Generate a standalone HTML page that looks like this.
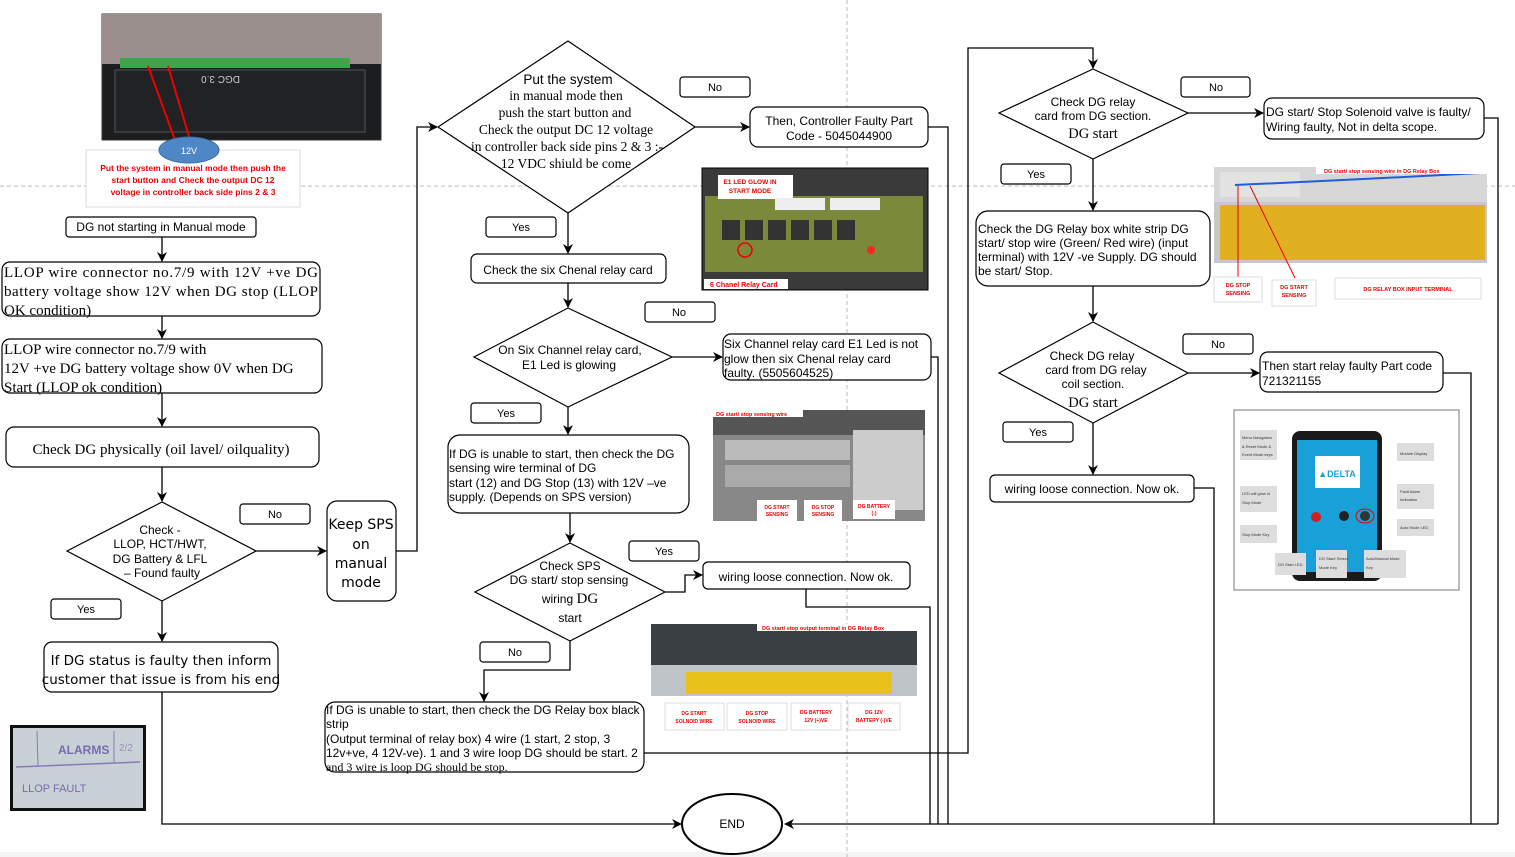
<!DOCTYPE html>
<html><head><meta charset="utf-8"><style>
html,body{margin:0;padding:0;background:#fff;}
svg{display:block;}
</style></head><body>
<svg width="1515" height="857" viewBox="0 0 1515 857" xmlns="http://www.w3.org/2000/svg" font-family="Liberation Sans, sans-serif">
<defs>
<marker id="a" markerWidth="10" markerHeight="10" refX="9" refY="5" orient="auto" markerUnits="userSpaceOnUse"><path d="M0,0 L10,5 L0,10 L3,5 z" fill="#000"/></marker>
</defs>
<rect x="0" y="852" width="1515" height="5" fill="#f4f4f4"/>
<line x1="0" y1="186" x2="1515" y2="186" stroke="#bbb" stroke-dasharray="4,3"/>
<line x1="847" y1="0" x2="847" y2="857" stroke="#bbb" stroke-dasharray="4,3"/>

<g fill="none" stroke="#000" stroke-width="1.3">
<line x1="162" y1="237" x2="162" y2="261" marker-end="url(#a)"/>
<line x1="162" y1="316" x2="162" y2="338" marker-end="url(#a)"/>
<line x1="162" y1="393" x2="162" y2="426" marker-end="url(#a)"/>
<line x1="162" y1="467" x2="162" y2="501" marker-end="url(#a)"/>
<line x1="256" y1="551" x2="326" y2="551" marker-end="url(#a)"/>
<line x1="162" y1="601" x2="162" y2="641" marker-end="url(#a)"/>
<polyline points="162,692 162,824 681,824" marker-end="url(#a)"/>
<polyline points="396,551 417,551 417,127 437,127" marker-end="url(#a)"/>
<line x1="695" y1="127" x2="749" y2="127" marker-end="url(#a)"/>
<line x1="568" y1="213" x2="568" y2="253" marker-end="url(#a)"/>
<line x1="568" y1="283" x2="568" y2="307" marker-end="url(#a)"/>
<line x1="672" y1="357" x2="722" y2="357" marker-end="url(#a)"/>
<line x1="568" y1="407" x2="568" y2="434" marker-end="url(#a)"/>
<line x1="570" y1="513" x2="570" y2="542" marker-end="url(#a)"/>
<polyline points="665,592 685,592 685,575 702,575" marker-end="url(#a)"/>
<polyline points="570,641 570,670 484,670 484,701" marker-end="url(#a)"/>
<polyline points="928,127 948,127 948,824"/>
<polyline points="931,357 938,357 938,824"/>
<polyline points="806,589 806,607 930,607 930,824"/>
<polyline points="644,753 968,753 968,48 1093,48 1093,68" marker-end="url(#a)"/>
<line x1="1188" y1="113" x2="1263" y2="113" marker-end="url(#a)"/>
<line x1="1093" y1="159" x2="1093" y2="210" marker-end="url(#a)"/>
<line x1="1093" y1="286" x2="1093" y2="321" marker-end="url(#a)"/>
<line x1="1188" y1="373" x2="1259" y2="373" marker-end="url(#a)"/>
<line x1="1093" y1="423" x2="1093" y2="474" marker-end="url(#a)"/>
<polyline points="1484,118 1498,118 1498,824"/>
<polyline points="1443,373 1471,373 1471,824"/>
<polyline points="1194,488 1214,488 1214,824"/>
<polyline points="1498,824 785,824" marker-end="url(#a)"/>
</g>

<!-- photo 1 -->
<rect x="102" y="14" width="279" height="126" fill="#1b1d1f" stroke="#333"/>
<rect x="102" y="14" width="279" height="50" fill="#9a8f8c"/>
<rect x="120" y="58" width="230" height="10" fill="#3aa74a"/>
<rect x="115" y="70" width="250" height="62" fill="#202224" stroke="#555"/>
<text x="240" y="84" fill="#ccc" font-size="10" transform="rotate(180 240 80)">DGC 3.0</text>
<line x1="168" y1="66" x2="190" y2="140" stroke="#e00" stroke-width="2"/>
<line x1="148" y1="66" x2="175" y2="140" stroke="#e00" stroke-width="2"/>
<rect x="86" y="150" width="214" height="57" fill="#fff" stroke="#ddd"/>
<ellipse cx="189" cy="150" rx="30" ry="13" fill="#4f86c6" stroke="#3a6ea8"/>
<text x="189" y="154" fill="#fff" font-size="9" text-anchor="middle">12V</text>
<g fill="#e00" font-size="8.5" font-weight="bold" text-anchor="middle">
<text x="193" y="171">Put the system in manual mode then push the</text>
<text x="193" y="183">start button and Check the output DC 12</text>
<text x="193" y="195">voltage in controller back side pins 2 &amp; 3</text>
</g>

<g fill="#fff" stroke="#000" stroke-width="1.2">
<rect x="66" y="217" width="190" height="20" rx="3"/>
<rect x="2" y="262" width="318" height="54" rx="8"/>
<rect x="2" y="339" width="320" height="54" rx="8"/>
<rect x="6" y="427" width="313" height="40" rx="8"/>
<polygon points="162,502 256,551 162,601 67,551"/>
<rect x="240" y="504" width="70" height="20" rx="3"/>
<rect x="51" y="599" width="70" height="20" rx="3"/>
<rect x="327" y="501" width="69" height="100" rx="10"/>
<rect x="44" y="642" width="234" height="50" rx="8"/>
</g>
<text x="161" y="231" font-size="12" text-anchor="middle">DG  not starting in Manual mode</text>
<g font-size="15" font-family="Liberation Serif, serif">
<text x="4" y="277" textLength="314" lengthAdjust="spacing">LLOP wire connector no.7/9 with 12V +ve DG</text>
<text x="4" y="296" textLength="314" lengthAdjust="spacing">battery voltage show 12V when DG stop (LLOP</text>
<text x="4" y="315">OK condition)</text>
<text x="4" y="354">LLOP wire connector no.7/9 with</text>
<text x="4" y="373">12V +ve DG battery voltage show 0V when DG</text>
<text x="4" y="392">Start (LLOP ok condition)</text>
<text x="161" y="454" text-anchor="middle">Check DG physically (oil lavel/ oilquality)</text>
</g>
<g font-size="12" text-anchor="middle">
<text x="160" y="534">Check -</text>
<text x="160" y="548">LLOP, HCT/HWT,</text>
<text x="160" y="563">DG Battery &amp; LFL</text>
<text x="162" y="577">– Found faulty</text>
<text x="275" y="518" font-size="11">No</text>
<text x="86" y="613" font-size="11">Yes</text>
</g>
<g font-size="14" text-anchor="middle" font-family="DejaVu Sans, sans-serif">
<text x="361" y="529">Keep SPS</text>
<text x="361" y="549">on</text>
<text x="361" y="568">manual</text>
<text x="361" y="587">mode</text>
<text x="161" y="665" font-size="13.5">If DG status is faulty then inform</text>
<text x="161" y="684" font-size="13.5">customer that issue is from his end</text>
</g>
<rect x="10" y="725" width="136" height="86" fill="#111"/>
<rect x="13" y="728" width="130" height="80" fill="#c8d2d6"/>
<line x1="16" y1="767" x2="140" y2="762" stroke="#8a7bb8" stroke-width="1.5"/>
<line x1="37" y1="731" x2="38" y2="766" stroke="#8a7bb8"/>
<line x1="114" y1="731" x2="114" y2="763" stroke="#8a7bb8"/>
<text x="58" y="754" fill="#7a68b0" font-size="12" font-weight="bold">ALARMS</text>
<text x="119" y="751" fill="#9a8ec0" font-size="10">2/2</text>
<text x="22" y="792" fill="#7a68b0" font-size="11">LLOP FAULT</text>

<g fill="#fff" stroke="#000" stroke-width="1.2">
<polygon points="568,41 695,127 568,213 438,127"/>
<rect x="680" y="77" width="70" height="20" rx="3"/>
<rect x="750" y="107" width="178" height="40" rx="8"/>
<rect x="486" y="217" width="70" height="20" rx="3"/>
<rect x="471" y="254" width="195" height="29" rx="6"/>
<polygon points="568,308 672,357 568,407 474,357"/>
<rect x="645" y="302" width="70" height="20" rx="3"/>
<rect x="723" y="334" width="208" height="46" rx="8"/>
<rect x="471" y="403" width="70" height="20" rx="3"/>
<rect x="448" y="435" width="241" height="78" rx="12"/>
<polygon points="570,543 665,592 570,641 475,592"/>
<rect x="629" y="541" width="70" height="20" rx="3"/>
<rect x="703" y="562" width="207" height="27" rx="5"/>
<rect x="480" y="642" width="70" height="20" rx="3"/>
<rect x="325" y="702" width="319" height="70" rx="10"/>
<ellipse cx="732" cy="824" rx="50" ry="30" stroke-width="2"/>
</g>
<g font-size="13.5" text-anchor="middle" font-family="Liberation Serif, serif">
<text x="568" y="84" font-family="Liberation Sans, sans-serif">Put the system</text>
<text x="566" y="100">in manual mode then</text>
<text x="565" y="117">push the start button and</text>
<text x="566" y="134">Check the output DC 12 voltage</text>
<text x="567" y="151">in controller back side pins 2 &amp; 3 :-</text>
<text x="566" y="168">12 VDC shiuld be come</text>
</g>
<g font-size="12" text-anchor="middle">
<text x="715" y="91" font-size="11">No</text>
<text x="839" y="125">Then, Controller Faulty Part</text>
<text x="839" y="140">Code - 5045044900</text>
<text x="521" y="231" font-size="11">Yes</text>
<text x="568" y="274">Check the six Chenal relay card</text>
<text x="570" y="354">On Six Channel relay card,</text>
<text x="569" y="369">E1 Led is glowing</text>
<text x="679" y="316" font-size="11">No</text>
<text x="506" y="417" font-size="11">Yes</text>
<text x="664" y="555" font-size="11">Yes</text>
<text x="515" y="656" font-size="11">No</text>
<text x="806" y="581">wiring loose connection. Now ok.</text>
<text x="570" y="570">Check SPS</text>
<text x="569" y="584">DG  start/ stop sensing</text>
<text x="570" y="603">wiring <tspan font-family="Liberation Serif, serif" font-size="15">DG</tspan></text>
<text x="570" y="622">start</text>
<text x="732" y="828">END</text>
</g>
<g font-size="12">
<text x="724" y="348">Six Channel relay card E1 Led is not</text>
<text x="724" y="363">glow then six Chenal relay card</text>
<text x="724" y="377">faulty. (5505604525)</text>
<text x="449" y="458">If DG is unable to start, then check the DG</text>
<text x="449" y="472">sensing wire terminal of DG</text>
<text x="449" y="487">start (12) and DG Stop (13) with 12V –ve</text>
<text x="449" y="501">supply. (Depends on SPS version)</text>
<text x="326" y="714">If DG is unable to start, then check the DG Relay box black</text>
<text x="326" y="728">strip</text>
<text x="326" y="743">(Output terminal of relay box) 4 wire (1 start, 2 stop, 3</text>
<text x="326" y="757">12v+ve, 4 12V-ve). 1 and 3 wire loop DG should be start. 2</text>
<text x="326" y="771" font-family="Liberation Serif, serif">and 3 wire is loop DG should be stop.</text>
</g>

<rect x="702" y="168" width="226" height="122" fill="#3a3a3a" stroke="#000"/>
<rect x="705" y="196" width="218" height="76" fill="#7a8a3a"/>
<rect x="718" y="175" width="75" height="24" fill="#fff"/>
<text x="750" y="184" fill="#e00" font-size="6.5" font-weight="bold" text-anchor="middle">E1 LED GLOW IN</text>
<text x="750" y="193" fill="#e00" font-size="6.5" font-weight="bold" text-anchor="middle">START MODE</text>
<g fill="#333"><rect x="722" y="220" width="18" height="20"/><rect x="745" y="220" width="18" height="20"/><rect x="768" y="220" width="18" height="20"/><rect x="791" y="220" width="18" height="20"/><rect x="814" y="220" width="18" height="20"/><rect x="837" y="220" width="18" height="20"/></g>
<rect x="775" y="198" width="50" height="12" fill="#eee"/><rect x="830" y="198" width="50" height="12" fill="#eee"/>
<circle cx="871" cy="250" r="4" fill="#f22"/>
<circle cx="745" cy="250" r="7" fill="none" stroke="#e00" stroke-width="1.5"/>
<rect x="704" y="279" width="84" height="10" fill="#fff"/>
<text x="710" y="287" fill="#e00" font-size="7" font-weight="bold">6 Chanel Relay Card</text>

<rect x="713" y="410" width="212" height="111" fill="#888"/>
<rect x="713" y="410" width="212" height="25" fill="#555"/>
<rect x="725" y="440" width="125" height="20" fill="#bbb"/>
<rect x="725" y="465" width="125" height="22" fill="#aaa"/>
<rect x="853" y="430" width="70" height="80" fill="#ccc"/>
<rect x="713" y="410" width="90" height="7" fill="#fff"/>
<text x="716" y="416" fill="#e00" font-size="5.5" font-weight="bold">DG start/ stop sensing wire</text>
<g fill="#fff"><rect x="757" y="500" width="40" height="21"/><rect x="804" y="500" width="38" height="21"/><rect x="853" y="500" width="42" height="19"/></g>
<g fill="#e00" font-size="5" font-weight="bold" text-anchor="middle"><text x="777" y="509">DG START</text><text x="777" y="516">SENSING</text><text x="823" y="509">DG STOP</text><text x="823" y="516">SENSING</text><text x="874" y="508">DG BATTERY</text><text x="874" y="515">(-)</text></g>

<rect x="651" y="624" width="266" height="72" fill="#3a3f44"/>
<rect x="651" y="665" width="266" height="31" fill="#bfc4c8"/>
<rect x="686" y="672" width="206" height="22" fill="#e8c21a"/>
<rect x="757" y="624" width="160" height="7" fill="#fff"/>
<text x="762" y="630" fill="#e00" font-size="5.5" font-weight="bold">DG start/ stop output terminal in DG Relay Box</text>
<g fill="#fff" stroke="#ddd"><rect x="665" y="703" width="59" height="27"/><rect x="727" y="703" width="60" height="27"/><rect x="791" y="703" width="50" height="27"/><rect x="848" y="703" width="52" height="27"/></g>
<g fill="#e00" font-size="5" font-weight="bold" text-anchor="middle"><text x="694" y="715">DG START</text><text x="694" y="723">SOLNOID WIRE</text><text x="757" y="715">DG STOP</text><text x="757" y="723">SOLNOID WIRE</text><text x="816" y="714">DG BATTERY</text><text x="816" y="722">12V (+)VE</text><text x="874" y="714">DG 12V</text><text x="874" y="722">BATTERY (-)VE</text></g>

<g fill="#fff" stroke="#000" stroke-width="1.2">
<polygon points="1093,69 1188,113 1093,159 999,113"/>
<rect x="1181" y="77" width="69" height="20" rx="3"/>
<rect x="1264" y="98" width="220" height="41" rx="8"/>
<rect x="1001" y="164" width="70" height="20" rx="3"/>
<rect x="976" y="211" width="234" height="75" rx="12"/>
<polygon points="1093,322 1188,373 1093,423 999,373"/>
<rect x="1183" y="334" width="70" height="20" rx="3"/>
<rect x="1260" y="352" width="183" height="40" rx="8"/>
<rect x="1003" y="422" width="70" height="20" rx="3"/>
<rect x="990" y="475" width="204" height="27" rx="5"/>
</g>
<g font-size="12" text-anchor="middle">
<text x="1093" y="106">Check DG relay</text>
<text x="1093" y="120">card from DG section.</text>
<text x="1093" y="138" font-family="Liberation Serif, serif" font-size="14.5">DG start</text>
<text x="1216" y="91" font-size="11">No</text>
<text x="1036" y="178" font-size="11">Yes</text>
<text x="1092" y="360">Check DG relay</text>
<text x="1096" y="374">card from DG relay</text>
<text x="1093" y="388">coil section.</text>
<text x="1093" y="407" font-family="Liberation Serif, serif" font-size="14.5">DG start</text>
<text x="1218" y="348" font-size="11">No</text>
<text x="1038" y="436" font-size="11">Yes</text>
<text x="1092" y="493">wiring loose connection. Now ok.</text>
</g>
<g font-size="12">
<text x="1266" y="116">DG start/ Stop Solenoid valve is faulty/</text>
<text x="1266" y="131">Wiring faulty, Not in delta scope.</text>
<text x="978" y="233">Check the DG Relay box white strip DG</text>
<text x="978" y="247">start/ stop wire (Green/ Red wire) (input</text>
<text x="978" y="261">terminal) with 12V -ve Supply. DG should</text>
<text x="978" y="275">be start/ Stop.</text>
<text x="1262" y="370">Then start relay faulty Part code</text>
<text x="1262" y="385">721321155</text>
</g>

<rect x="1214" y="167" width="273" height="96" fill="#c8c8c8"/>
<rect x="1220" y="172" width="80" height="25" fill="#eee"/>
<rect x="1220" y="205" width="265" height="55" fill="#e0b020"/>
<rect x="1214" y="167" width="273" height="35" fill="#ddd" opacity="0.7"/>
<path d="M1235,185 Q1350,180 1480,173" stroke="#1e5ed8" stroke-width="2" fill="none"/>
<rect x="1316" y="167" width="171" height="7" fill="#fff"/>
<text x="1324" y="173" fill="#e00" font-size="5.5" font-weight="bold">DG start/ stop sensing wire in DG Relay Box</text>
<line x1="1238" y1="186" x2="1238" y2="278" stroke="#e00"/>
<line x1="1250" y1="186" x2="1295" y2="278" stroke="#e00"/>
<g fill="#fff" stroke="#ddd"><rect x="1214" y="277" width="48" height="25"/><rect x="1272" y="280" width="44" height="26"/><rect x="1335" y="278" width="146" height="21"/></g>
<g fill="#e00" font-size="5.5" font-weight="bold" text-anchor="middle"><text x="1238" y="287">DG STOP</text><text x="1238" y="295">SENSING</text><text x="1294" y="289">DG START</text><text x="1294" y="297">SENSING</text><text x="1408" y="291">DG RELAY BOX INPUT TERMINAL</text></g>

<rect x="1234" y="410" width="225" height="180" fill="#fff" stroke="#777"/>
<rect x="1292" y="431" width="90" height="150" rx="8" fill="#1a1a1a"/>
<rect x="1297" y="440" width="80" height="132" fill="#1aa0d8"/>
<rect x="1315" y="456" width="45" height="32" fill="#fff"/>
<text x="1337" y="477" fill="#1aa0d8" font-size="9" font-weight="bold" text-anchor="middle">▲DELTA</text>
<circle cx="1316" cy="517" r="5" fill="#d02020"/><circle cx="1344" cy="516" r="5" fill="#222"/><circle cx="1365" cy="516" r="5" fill="#333"/>
<ellipse cx="1365" cy="516" rx="9" ry="7" fill="none" stroke="#e00"/>
<g fill="#ddd"><rect x="1240" y="430" width="37" height="30"/><rect x="1397" y="443" width="37" height="18"/><rect x="1240" y="486" width="37" height="26"/><rect x="1397" y="484" width="37" height="25"/><rect x="1240" y="525" width="37" height="18"/><rect x="1397" y="519" width="37" height="17"/><rect x="1275" y="553" width="31" height="22"/><rect x="1316" y="550" width="31" height="28"/><rect x="1364" y="550" width="42" height="28"/></g>
<g font-size="4" fill="#333"><text x="1242" y="439">Menu Navigation</text><text x="1242" y="448">&amp; Reset Mode &amp;</text><text x="1242" y="456">Event Mode keys</text><text x="1400" y="455">Module Display</text><text x="1242" y="495">LED will glow in</text><text x="1242" y="504">Stop Mode</text><text x="1400" y="493">Fault Alarm</text><text x="1400" y="501">Indication</text><text x="1242" y="536">Stop Mode Key</text><text x="1400" y="529">Auto Mode LED</text><text x="1278" y="566">DG Start LED</text><text x="1319" y="560">DG Start/ Select</text><text x="1319" y="569">Mode Key</text><text x="1366" y="560">Auto/Manual Mode</text><text x="1366" y="569">Key</text></g>
</svg>
</body></html>
